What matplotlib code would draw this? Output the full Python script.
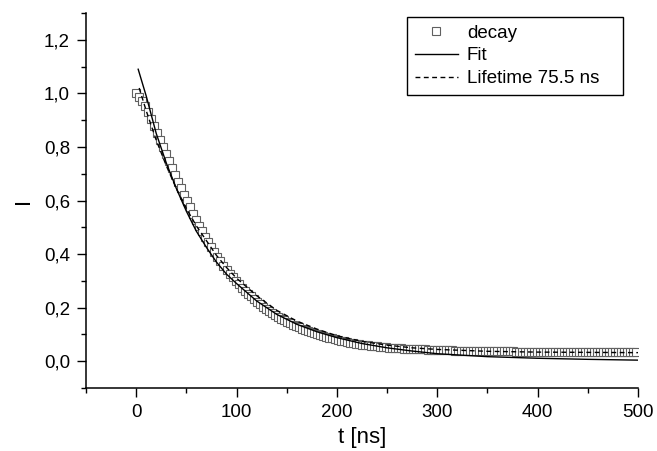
import numpy as np
import matplotlib.pyplot as plt
from matplotlib.ticker import MultipleLocator

plt.rcParams['font.family'] = ['Liberation Sans', 'DejaVu Sans']

# measured decay, sampled every 3 ns
t_decay = np.arange(0, 499, 3)
i_decay = [
    1.000, 0.985, 0.970, 0.951, 0.930, 0.905, 0.879, 0.853, 0.827, 0.801,
    0.775, 0.748, 0.721, 0.696, 0.670, 0.645, 0.621, 0.597, 0.574, 0.551,
    0.528, 0.506, 0.485, 0.465, 0.445, 0.426, 0.408, 0.390, 0.373, 0.357,
    0.342, 0.327, 0.313, 0.300, 0.287, 0.275, 0.263, 0.252, 0.242, 0.232,
    0.222, 0.213, 0.204, 0.196, 0.188, 0.180, 0.173, 0.166, 0.159, 0.153,
    0.147, 0.141, 0.136, 0.131, 0.126, 0.121, 0.117, 0.113, 0.109, 0.105,
    0.101, 0.097, 0.094, 0.091, 0.088, 0.085, 0.082, 0.079, 0.076, 0.074,
    0.071, 0.069, 0.067, 0.065, 0.063, 0.061, 0.060, 0.059, 0.057, 0.056,
    0.055, 0.054, 0.053, 0.052, 0.051, 0.050, 0.049, 0.049, 0.048, 0.047,
    0.047, 0.046, 0.046, 0.045, 0.045, 0.044, 0.044, 0.043, 0.043, 0.042,
    0.042, 0.042, 0.041, 0.041, 0.041, 0.041, 0.040, 0.040, 0.040, 0.040,
    0.039, 0.039, 0.039, 0.039, 0.039, 0.038, 0.038, 0.038, 0.038, 0.038,
    0.037, 0.037, 0.037, 0.037, 0.037, 0.037, 0.036, 0.036, 0.036, 0.036,
    0.036, 0.036, 0.036, 0.036, 0.036, 0.036, 0.035, 0.036, 0.035, 0.035,
    0.036, 0.035, 0.035, 0.035, 0.036, 0.035, 0.035, 0.035, 0.035, 0.036,
    0.035, 0.035, 0.035, 0.035, 0.035, 0.036, 0.035, 0.035, 0.035, 0.035,
    0.035, 0.035, 0.035, 0.035, 0.035, 0.035, 0.035,
]

# fit curve
t_fit = [2, 10, 20, 30, 40, 50, 60, 70, 80, 90, 100, 120, 140, 160, 180,
         200, 225, 250, 275, 300, 350, 400, 450, 500]
i_fit = [1.09, 0.99, 0.85, 0.74, 0.645, 0.56, 0.485, 0.425, 0.37, 0.325,
         0.29, 0.225, 0.175, 0.138, 0.11, 0.088, 0.066, 0.05, 0.038, 0.028,
         0.017, 0.011, 0.007, 0.004]

# single exponential, lifetime 75.5 ns
t_life = [3, 10, 20, 30, 40, 50, 60, 70, 80, 90, 100, 120, 140, 160, 180,
          200, 225, 250, 275, 300, 350, 400, 450, 500]
i_life = [1.02, 0.935, 0.825, 0.73, 0.645, 0.57, 0.505, 0.45, 0.395, 0.35,
          0.31, 0.245, 0.19, 0.15, 0.12, 0.095, 0.074, 0.06, 0.05, 0.044,
          0.037, 0.034, 0.033, 0.032]

xticks = [0, 100, 200, 300, 400, 500]
yticks = [0.0, 0.2, 0.4, 0.6, 0.8, 1.0, 1.2]
ylabels = ['0,0', '0,2', '0,4', '0,6', '0,8', '1,0', '1,2']

fig = plt.figure(figsize=(6.57, 4.51), dpi=100)
ax = fig.add_axes([86/657, 63/451, 552/657, 375/451])

ax.plot(t_decay, i_decay, 's', mfc='white', mec='#606060', mew=0.8,
        ms=6, label='decay')
ax.plot(t_fit, i_fit, '-', color='black', lw=1.0, label='Fit')
ax.plot(t_life, i_life, '--', color='black', lw=1.0, dashes=(3.5, 2.5),
        label='Lifetime 75.5 ns')

ax.set_xlim(-50, 500)
ax.set_ylim(-0.1, 1.3)
ax.set_xticks(xticks)
ax.set_yticks(yticks)
ax.set_yticklabels(ylabels)
ax.xaxis.set_minor_locator(MultipleLocator(50))
ax.yaxis.set_minor_locator(MultipleLocator(0.1))

for s in ['top', 'right']:
    ax.spines[s].set_visible(False)
for s in ['left', 'bottom']:
    ax.spines[s].set_linewidth(1.1)
ax.tick_params(which='major', direction='out', length=6.5, width=1.0,
               labelsize=13.5, pad=5)
ax.tick_params(which='minor', direction='out', length=3.5, width=1.0)

ax.set_xlabel('t [ns]', fontsize=16, labelpad=4)
ax.set_ylabel('I', fontsize=16, labelpad=7)

leg = ax.legend(loc='upper left',
                bbox_to_anchor=(407/657, 1 - 92/451, 216/657, 75/451),
                bbox_transform=fig.transFigure, mode='expand',
                borderaxespad=0, fancybox=False, edgecolor='black',
                framealpha=1, fontsize=13.5, handlelength=2.3,
                handletextpad=0.5, labelspacing=0.3, borderpad=0.4)
leg.get_frame().set_linewidth(1.0)

fig.savefig('out.png', dpi=100)
